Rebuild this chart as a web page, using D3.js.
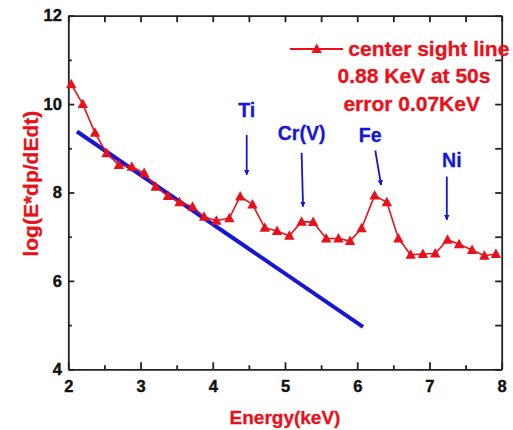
<!DOCTYPE html>
<html>
<head>
<meta charset="utf-8">
<style>
  body { margin: 0; background: #fff; }
  #chart { font-family: 'Liberation Sans', Arial, sans-serif; font-weight: bold; }
  #chart .axis path, #chart .axis line { stroke: #222; stroke-width: 1.8; }
  #chart .axis text { fill: #111; stroke: #111; stroke-width: 0.4; font-size: 16.5px; font-weight: bold; font-family: 'Liberation Sans', Arial, sans-serif; }
  #chart .red { fill: #e8111a; stroke: #e8111a; stroke-width: 0.3; }
  #chart .blue { fill: #1616d6; stroke: #1616d6; stroke-width: 0.3; }
</style>
</head>
<body>
<div id="chart"></div>
<script src="https://d3js.org/d3.v7.min.js"></script>
<script>
  // measured spectrum (center sight line)
  var energy = [2.04, 2.20, 2.37, 2.53, 2.70, 2.88, 3.05, 3.21, 3.38, 3.54, 3.72, 3.88,
    4.05, 4.23, 4.38, 4.55, 4.72, 4.89, 5.06, 5.23, 5.39, 5.57, 5.74, 5.90,
    6.06, 6.24, 6.41, 6.57, 6.74, 6.91, 7.08, 7.25, 7.41, 7.59, 7.76, 7.92];
  var logFlux = [10.45, 10.00, 9.35, 8.89, 8.62, 8.58, 8.44, 8.13, 7.92, 7.78, 7.68, 7.45,
    7.36, 7.42, 7.91, 7.73, 7.20, 7.13, 7.02, 7.34, 7.33, 6.96, 6.96, 6.90,
    7.19, 7.93, 7.78, 6.96, 6.59, 6.61, 6.62, 6.93, 6.83, 6.70, 6.57, 6.61];

  // straight fit (blue)
  var fitEnergy = [2.12, 6.08];
  var fitLog = [9.38, 4.96];

  var xTicks = [2, 3, 4, 5, 6, 7, 8];
  var xMinor = [2.5, 3.5, 4.5, 5.5, 6.5, 7.5];
  var yTicks = [4, 6, 8, 10, 12];
  var yMinor = [5, 7, 9, 11];

  // line labels + arrows, in data units
  var peakNames = ["Ti", "Cr(V)", "Fe", "Ni"];
  var peakLabelX = [4.47, 5.23, 6.18, 7.31];
  var peakLabelY = [9.87, 9.34, 9.30, 8.74];
  var arrowFromX = [4.47, 5.23, 6.25, 7.24];
  var arrowFromY = [9.30, 8.90, 8.95, 8.36];
  var arrowToX = [4.47, 5.25, 6.33, 7.24];
  var arrowToY = [8.40, 7.68, 8.17, 7.38];

  var legendLines = ["center sight line", "0.88 KeV at 50s", "error 0.07KeV"];

  var width = 513,
    height = 430;
  var margin = { top: 15.7, right: 11.3, bottom: 60.7, left: 68.3 };
  var innerW = width - margin.left - margin.right,
    innerH = height - margin.top - margin.bottom;

  var svg = d3.select("#chart").append("svg").attr("width", width).attr("height", height);

  var x = d3.scaleLinear().domain([2, 8]).range([margin.left, margin.left + innerW]);
  var y = d3.scaleLinear().domain([4, 12]).range([margin.top + innerH, margin.top]);

  var red = "#e8111a", blue = "#1616d6";

  // minor ticks
  svg.append("g").attr("class", "axis").attr("transform", "translate(0," + y(4) + ")")
    .call(d3.axisBottom(x).tickValues(xMinor).tickSize(-4).tickFormat(""))
    .call(function(g) { g.select(".domain").remove(); });
  svg.append("g").attr("class", "axis").attr("transform", "translate(" + x(2) + ",0)")
    .call(d3.axisLeft(y).tickValues(yMinor).tickSize(-3.5).tickFormat(""))
    .call(function(g) { g.select(".domain").remove(); });

  // top and right frame
  svg.append("g").attr("class", "axis").attr("transform", "translate(0," + y(12) + ")")
    .call(d3.axisTop(x).tickValues(xTicks.concat(xMinor)).tickSizeInner(-6.5).tickSizeOuter(0).tickFormat(""));
  svg.append("g").attr("class", "axis").attr("transform", "translate(" + x(8) + ",0)")
    .call(d3.axisRight(y).tickValues(d3.range(4, 13)).tickSizeInner(-6.5).tickSizeOuter(0).tickFormat(""));

  // main axes
  svg.append("g").attr("class", "axis").attr("transform", "translate(0," + y(4) + ")")
    .call(d3.axisBottom(x).tickValues(xTicks).tickSizeInner(-7).tickSizeOuter(0).tickPadding(10.5).tickFormat(d3.format("d")));
  svg.append("g").attr("class", "axis").attr("transform", "translate(" + x(2) + ",0)")
    .call(d3.axisLeft(y).tickValues(yTicks).tickSizeInner(-6).tickSizeOuter(0).tickPadding(6.4).tickFormat(d3.format("d")));

  // axis titles
  svg.append("text").attr("class", "red")
    .attr("x", x(5)).attr("y", 424)
    .attr("text-anchor", "middle").style("font-size", "19px")
    .text("Energy(keV)");
  svg.append("text").attr("class", "red")
    .attr("transform", "translate(37.5," + y(8.2) + ") rotate(-90)")
    .attr("text-anchor", "middle").style("font-size", "21px")
    .text("log(E*dp/dEdt)");

  // fit line
  var fit = fitEnergy.map(function(e, i) { return [e, fitLog[i]]; });
  svg.append("path")
    .datum(fit)
    .attr("fill", "none")
    .attr("stroke", blue)
    .attr("stroke-width", 4)
    .attr("d", d3.line().x(function(d) { return x(d[0]); }).y(function(d) { return y(d[1]); }));

  // spectrum
  var pts = energy.map(function(e, i) { return [e, logFlux[i]]; });
  svg.append("path")
    .datum(pts)
    .attr("fill", "none")
    .attr("stroke", red)
    .attr("stroke-width", 1.6)
    .attr("d", d3.line().x(function(d) { return x(d[0]); }).y(function(d) { return y(d[1]); }));

  function tri(cx, cy) {
    return "M" + cx + "," + (cy - 5.5) + "L" + (cx + 5.2) + "," + (cy + 4) + "L" + (cx - 5.2) + "," + (cy + 4) + "Z";
  }
  svg.append("g").selectAll("path")
    .data(pts)
    .enter().append("path")
    .attr("fill", red)
    .attr("d", function(d) { return tri(x(d[0]), y(d[1])); });

  // arrows
  svg.append("defs").append("marker")
    .attr("id", "head")
    .attr("viewBox", "0 0 10 10")
    .attr("refX", 9).attr("refY", 5)
    .attr("markerWidth", 3).attr("markerHeight", 3.5)
    .attr("orient", "auto")
    .append("path").attr("d", "M0,0L10,5L0,10Z").attr("fill", blue);

  peakNames.forEach(function(name, i) {
    svg.append("line")
      .attr("x1", x(arrowFromX[i])).attr("y1", y(arrowFromY[i]))
      .attr("x2", x(arrowToX[i])).attr("y2", y(arrowToY[i]))
      .attr("stroke", blue).attr("stroke-width", 1.8)
      .attr("marker-end", "url(#head)");
    svg.append("text").attr("class", "blue")
      .attr("x", x(peakLabelX[i])).attr("y", y(peakLabelY[i]))
      .attr("dy", "0.36em")
      .attr("text-anchor", "middle").style("font-size", "19.5px")
      .text(name);
  });

  // legend
  svg.append("line").attr("x1", 290).attr("x2", 343).attr("y1", 49).attr("y2", 49)
    .attr("stroke", red).attr("stroke-width", 1.8);
  svg.append("path").attr("fill", red).attr("d", tri(316.7, 49));
  svg.append("text").attr("class", "red").attr("x", 348.3).attr("y", 55.5)
    .style("font-size", "21px").text(legendLines[0]);
  svg.append("text").attr("class", "red").attr("x", 414).attr("y", 83)
    .attr("text-anchor", "middle").style("font-size", "21px").text(legendLines[1]);
  svg.append("text").attr("class", "red").attr("x", 411.7).attr("y", 110.5)
    .attr("text-anchor", "middle").style("font-size", "21px").text(legendLines[2]);
</script>
</body>
</html>
